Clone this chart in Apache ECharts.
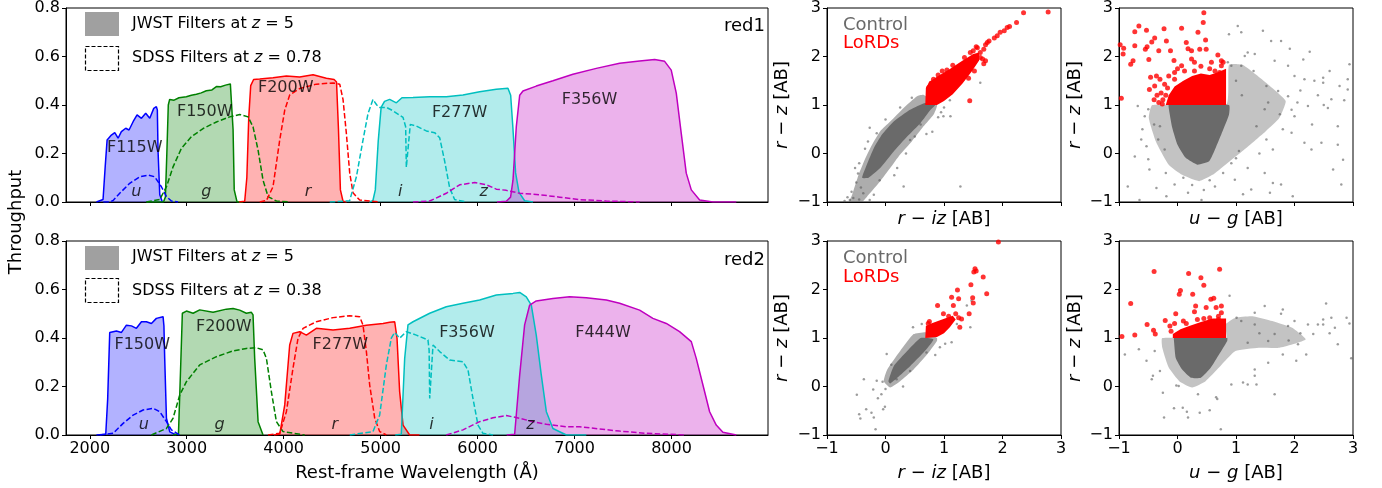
<!DOCTYPE html>
<html>
<head>
<meta charset="utf-8">
<script src="https://cdn.jsdelivr.net/npm/echarts@6/dist/echarts.min.js"></script>
<style>html,body{margin:0;background:#fff}#main{width:1382px;height:488px}</style>
</head>
<body>
<div id="main"></div>
<script>
// filter curves, [wavelength (A), throughput]
var waveTicks = [2000, 3000, 4000, 5000, 6000, 7000, 8000];
var colorTicks = [-1, 0, 1, 2, 3];

// red1: JWST at z=5, SDSS at z=0.78
var f115wTop = [[2069,0],[2137,0.01],[2160,0.15],[2179,0.256],[2223,0.276],[2258,0.286],[2292,0.263],[2326,0.29],[2371,0.304],[2405,0.297],[2447,0.331],[2488,0.359],[2533,0.345],[2577,0.366],[2619,0.345],[2660,0.386],[2687,0.393],[2697,0.38],[2704,0.214],[2722,0.03],[2749,0]];
var f150wTop = [[2584,0],[2760,0],[2780,0.02],[2795,0.2],[2810,0.4],[2824,0.423],[2870,0.42],[2920,0.43],[2996,0.434],[3048,0.44],[3100,0.444],[3150,0.45],[3202,0.459],[3260,0.462],[3306,0.476],[3350,0.475],[3400,0.482],[3450,0.487],[3465,0.48],[3478,0.3],[3490,0.05],[3519,0],[3580,0]];
var f200wTop = [[3540,0],[3598,0.003],[3620,0.1],[3640,0.35],[3660,0.48],[3690,0.505],[3753,0.507],[3890,0.512],[4028,0.52],[4165,0.515],[4303,0.525],[4440,0.51],[4520,0.505],[4545,0.495],[4565,0.3],[4585,0.05],[4612,0.003],[4650,0]];
var f277wTop = [[4880,0],[4920,0.005],[4945,0.05],[4975,0.25],[5005,0.39],[5040,0.415],[5093,0.423],[5162,0.409],[5220,0.43],[5334,0.431],[5506,0.434],[5677,0.434],[5849,0.441],[6021,0.455],[6193,0.465],[6313,0.469],[6341,0.44],[6365,0.3],[6392,0.12],[6427,0.04],[6485,0.005],[6571,0]];
var f356wTop = [[6200,0],[6296,0.003],[6340,0.02],[6365,0.09],[6399,0.31],[6434,0.44],[6468,0.458],[6605,0.478],[6777,0.5],[6983,0.527],[7224,0.551],[7465,0.572],[7671,0.581],[7826,0.588],[7929,0.58],[7997,0.544],[8049,0.449],[8100,0.284],[8152,0.119],[8204,0.05],[8290,0.008],[8427,0],[8668,0]];
var uTop = [[2140,0],[2206,0],[2241,0.006],[2309,0.036],[2412,0.077],[2516,0.104],[2601,0.111],[2670,0.104],[2739,0.063],[2791,0.022],[2842,0.004],[2911,0]];
var gTop = [[2584,0],[2722,0.01],[2791,0.063],[2859,0.145],[2945,0.221],[3048,0.269],[3169,0.303],[3306,0.33],[3443,0.351],[3547,0.361],[3633,0.351],[3684,0.31],[3736,0.214],[3787,0.09],[3839,0.022],[3925,0.004],[4062,0]];
var rTop = [[3753,0],[3822,0.006],[3890,0.063],[3959,0.255],[4011,0.379],[4062,0.441],[4165,0.468],[4337,0.486],[4509,0.491],[4578,0.486],[4612,0.423],[4646,0.285],[4681,0.12],[4715,0.038],[4784,0.008],[4990,0]];
var iTop = [[4475,0],[4680,0.005],[4750,0.104],[4818,0.255],[4870,0.365],[4921,0.423],[4960,0.4],[4990,0.39],[5060,0.39],[5128,0.376],[5231,0.349],[5258,0.31],[5265,0.143],[5306,0.32],[5368,0.313],[5471,0.293],[5557,0.286],[5609,0.265],[5660,0.169],[5712,0.058],[5763,0.01],[5884,0]];
var zTop = [[5334,0],[5506,0.004],[5677,0.036],[5815,0.071],[5970,0.08],[6090,0.071],[6193,0.053],[6296,0.048],[6434,0.036],[6640,0.03],[6846,0.02],[7052,0.01],[7327,0.004],[7671,0]];

// red2: JWST at z=5, SDSS at z=0.38
var f150wBot = [[2069,0],[2165,0.003],[2185,0.15],[2206,0.423],[2275,0.429],[2327,0.423],[2378,0.453],[2430,0.45],[2481,0.44],[2533,0.467],[2584,0.467],[2636,0.46],[2687,0.481],[2756,0.488],[2765,0.45],[2773,0.316],[2791,0.069],[2825,0.013],[2894,0]];
var f200wBot = [[2860,0],[2915,0.005],[2935,0.25],[2955,0.502],[2997,0.511],[3066,0.502],[3134,0.516],[3272,0.506],[3409,0.519],[3478,0.522],[3546,0.515],[3615,0.502],[3667,0.506],[3684,0.495],[3701,0.316],[3736,0.055],[3787,0]];
var f277wBot = [[3900,0],[3959,0.003],[4011,0.124],[4062,0.371],[4096,0.419],[4165,0.426],[4234,0.412],[4337,0.44],[4509,0.433],[4681,0.44],[4853,0.453],[5025,0.46],[5093,0.465],[5145,0.467],[5169,0.399],[5196,0.179],[5231,0.041],[5299,0],[5400,0]];
var f356wBot = [[5150,0],[5213,0.003],[5248,0.316],[5282,0.454],[5334,0.467],[5506,0.502],[5677,0.529],[5849,0.543],[6021,0.557],[6193,0.577],[6365,0.584],[6434,0.588],[6502,0.57],[6554,0.536],[6605,0.412],[6657,0.247],[6709,0.096],[6777,0.027],[6915,0],[7121,0]];
var f444wBot = [[6300,0],[6382,0.003],[6434,0.247],[6485,0.454],[6537,0.536],[6605,0.553],[6777,0.563],[6949,0.57],[7121,0.566],[7327,0.557],[7465,0.543],[7671,0.515],[7808,0.481],[7946,0.46],[8083,0.426],[8204,0.385],[8255,0.316],[8324,0.206],[8393,0.096],[8461,0.041],[8530,0.011],[8668,0]];
var uBot = [[2103,0],[2241,0.007],[2344,0.048],[2447,0.082],[2550,0.103],[2653,0.11],[2722,0.096],[2791,0.055],[2842,0.021],[2928,0]];
var gBot = [[2636,0],[2791,0.027],[2859,0.069],[2928,0.165],[2997,0.22],[3134,0.289],[3306,0.323],[3478,0.347],[3615,0.357],[3718,0.36],[3787,0.351],[3822,0.316],[3873,0.179],[3925,0.055],[3993,0.014],[4217,0]];
var rBot = [[3839,0],[3959,0.007],[4028,0.096],[4096,0.275],[4148,0.399],[4200,0.44],[4337,0.467],[4509,0.484],[4681,0.492],[4784,0.488],[4818,0.453],[4853,0.344],[4887,0.206],[4939,0.069],[4990,0.014],[5059,0]];
var iBot = [[4681,0],[4921,0.014],[4990,0.082],[5059,0.289],[5110,0.399],[5145,0.423],[5196,0.399],[5265,0.426],[5368,0.412],[5488,0.392],[5500,0.35],[5506,0.151],[5540,0.371],[5609,0.344],[5712,0.309],[5849,0.302],[5901,0.268],[5952,0.151],[6004,0.041],[6055,0.007],[6159,0]];
var zBot = [[5677,0],[5849,0.021],[6021,0.055],[6159,0.071],[6296,0.08],[6434,0.069],[6571,0.055],[6709,0.044],[6915,0.034],[7052,0.034],[7258,0.025],[7465,0.016],[7740,0.007],[8152,0]];

// band labels [wavelength, throughput, text]
var jwstLabelsTop = [[2464,0.223,'F115W'],[3186,0.371,'F150W'],[4021,0.47,'F200W'],[5815,0.367,'F277W'],[7155,0.42,'F356W']];
var sdssLabelsTop = [[2481,0.04,'u'],[3203,0.04,'g'],[4251,0.04,'r'],[5203,0.04,'i'],[6062,0.04,'z']];
var jwstLabelsBot = [[2541,0.371,'F150W'],[3382,0.447,'F200W'],[4585,0.371,'F277W'],[5890,0.423,'F356W'],[7293,0.423,'F444W']];
var sdssLabelsBot = [[2557,0.04,'u'],[3340,0.04,'g'],[4526,0.04,'r'],[5523,0.04,'i'],[6544,0.04,'z']];

// colour-colour panels: outlines of the dense clouds and single points
var ctlCoreTM = [[0.68,1.04],[0.42,0.9],[0.14,0.66],[-0.06,0.39],[-0.2,0.11],[-0.32,-0.23],[-0.4,-0.5],[-0.29,-0.5],[-0.09,-0.3],[0.14,0.04],[0.37,0.35],[0.6,0.63],[0.77,0.9],[0.85,1.0]];
var ctlHaloTM = [[0.65,1.21],[0.54,1.18],[0.31,0.94],[0.08,0.66],[-0.09,0.46],[-0.23,0.18],[-0.34,-0.09],[-0.46,-0.44],[-0.57,-0.85],[-0.62,-1.0],[-0.4,-1.0],[-0.29,-0.85],[-0.09,-0.57],[0.08,-0.3],[0.25,-0.02],[0.45,0.25],[0.65,0.56],[0.82,0.8],[0.88,1.0]];
var lrdCoreTM = [[0.68,1.0],[0.69,1.35],[0.75,1.48],[0.9,1.6],[1.1,1.74],[1.3,1.9],[1.5,2.05],[1.6,2.08],[1.6,1.92],[1.48,1.7],[1.32,1.45],[1.15,1.22],[1.0,1.08],[0.88,1.0]];
var ctlPtsTM = [[-0.61,-0.96],[-0.55,-0.92],[-0.58,-0.79],[-0.38,-0.82],[-0.27,-0.96],[-0.47,-0.41],[-0.5,-0.6],[-0.65,-0.9],[-0.42,-0.7],[-0.2,-0.85],[0.31,-0.68],[1.28,-0.68],[1.11,0.77],[0.99,0.77],[1.19,1.49],[1.62,1.46],[0.42,0.28],[-0.27,0.53],[-0.15,0.42],[0.5,0.35],[0.6,0.6],[0.9,0.75],[-0.35,0.1],[-0.45,-0.2],[0.2,-0.3],[0.35,0.0],[1.0,0.95],[1.1,1.1],[-0.1,-0.55],[0.8,0.45],[-0.3,0.25],[0.0,0.7],[0.25,0.95],[0.45,1.15],[-0.52,-0.3],[0.15,-0.45],[0.7,0.4],[0.95,0.85],[-0.7,-0.98],[-0.45,-0.95]];
var lrdPtsTM = [[2.78,2.92],[2.36,2.9],[2.24,2.7],[2.12,2.62],[2.08,2.6],[2.03,2.53],[1.96,2.5],[1.91,2.43],[1.86,2.38],[1.77,2.32],[1.74,2.29],[1.71,2.24],[1.57,2.18],[1.62,2.08],[1.71,1.91],[1.66,1.95],[1.44,1.09],[1.22,1.7],[1.3,1.78],[0.97,1.7],[0.82,1.53],[0.74,1.36],[1.05,1.72],[0.9,1.62],[1.5,2.12],[1.35,1.98],[1.15,1.82],[0.78,1.45],[1.62,1.98],[1.68,1.85],[1.52,1.7],[1.42,1.55],[1.68,2.15],[1.55,2.2],[1.45,2.08]];

var ctlCoreTR = [[-0.15,1.0],[-0.15,0.94],[-0.09,0.53],[0.0,0.18],[0.14,-0.09],[0.34,-0.23],[0.54,-0.16],[0.65,0.11],[0.77,0.46],[0.88,0.8],[0.88,1.0]];
var ctlHaloTR = [[-0.43,1.0],[-0.49,0.73],[-0.37,0.25],[-0.15,-0.23],[0.08,-0.44],[0.37,-0.57],[0.6,-0.44],[0.82,-0.23],[1.17,0.11],[1.51,0.46],[1.74,0.73],[1.85,1.08],[1.62,1.35],[1.34,1.63],[1.11,1.83],[0.88,1.83],[0.83,1.0]];
var lrdCoreTR = [[-0.2,1.0],[0.83,1.0],[0.83,1.75],[0.7,1.68],[0.55,1.62],[0.4,1.65],[0.25,1.6],[0.1,1.5],[-0.05,1.38],[-0.15,1.2]];
var ctlPtsTR = [[1.03,2.63],[1.09,2.5],[1.46,2.53],[0.88,2.46],[1.77,2.32],[1.6,2.32],[2.26,2.1],[1.92,2.16],[2.49,1.56],[2.34,1.5],[2.17,1.53],[2.77,1.39],[2.91,1.32],[2.94,1.84],[2.91,1.53],[2.63,1.12],[2.57,0.94],[2.74,0.56],[2.46,0.22],[2.74,0.18],[2.83,-0.13],[2.8,-0.64],[2.66,-0.33],[2.29,0.08],[2.17,0.22],[1.95,0.43],[2.0,0.77],[2.23,0.98],[1.89,1.18],[1.72,1.29],[1.52,1.39],[1.55,1.05],[1.75,0.81],[1.49,0.91],[1.35,0.56],[1.52,0.29],[1.63,0.08],[1.49,-0.4],[1.63,-0.61],[1.77,-0.64],[1.97,-0.88],[1.58,-0.81],[1.26,-0.74],[1.12,-0.84],[0.98,-0.54],[0.92,-0.2],[0.78,-0.4],[0.64,-0.68],[0.41,-0.96],[0.18,-0.81],[-0.05,-0.64],[-0.19,-0.88],[-0.36,-0.71],[-0.48,-0.33],[-0.5,-0.12],[-0.73,-0.06],[-0.85,-0.68],[-0.65,-0.96],[-0.53,0.15],[-0.62,0.29],[-0.56,0.77],[-0.5,0.91],[-0.68,0.98],[-0.33,0.29],[-0.3,0.56],[-0.22,0.08],[1.09,1.81],[1.15,2.01],[1.2,2.08],[1.32,2.05],[0.92,1.81],[0.86,1.88],[1.66,1.91],[1.89,1.81],[2.15,1.94],[2.49,1.46],[2.4,1.2],[2.1,1.3],[1.3,1.7],[1.0,1.5],[1.1,1.2],[2.6,1.7],[2.85,1.1],[2.3,0.6],[2.0,1.6],[1.2,-0.3],[1.4,0.0],[0.55,-0.55],[-0.2,-0.4],[0.1,-0.5],[-0.4,0.6],[1.8,0.5],[2.05,1.05],[1.95,0.9],[0.45,-0.75],[0.25,-0.65],[1.0,-0.1],[1.05,0.05],[-0.6,0.5],[2.5,1.0]];
var lrdPtsTR = [[-0.98,2.24],[-0.92,2.17],[-0.93,2.05],[-0.96,1.14],[-0.8,1.84],[-0.76,1.91],[-0.73,2.22],[-0.73,2.51],[-0.66,2.63],[-0.53,2.54],[-0.55,2.15],[-0.52,2.2],[-0.44,2.3],[-0.39,2.38],[-0.49,1.94],[-0.32,2.12],[-0.23,2.57],[-0.19,2.32],[-0.12,2.12],[-0.06,1.92],[0.07,2.58],[0.15,2.29],[0.18,2.16],[0.24,2.12],[0.35,2.5],[0.44,2.7],[0.45,2.9],[0.48,2.34],[0.38,2.15],[0.49,2.15],[0.69,2.03],[0.75,1.91],[0.78,1.88],[0.58,1.88],[0.24,1.95],[0.29,1.88],[-0.46,1.57],[-0.39,1.39],[-0.3,1.53],[-0.4,1.11],[-0.25,1.11],[-0.28,1.25],[-0.22,1.43],[-0.48,1.32],[-0.36,1.6],[-0.05,1.67],[0.07,1.81],[0.12,1.7],[-0.05,1.53],[0.29,1.7],[0.64,1.7],[0.72,1.67],[0.75,1.81],[-0.15,1.6],[0.0,1.75],[0.4,1.8],[0.55,1.75],[-0.2,1.2],[-0.32,1.05],[-0.17,1.35],[-0.26,1.02],[-0.35,1.2]];

var ctlCoreBM = [[0.05,0.11],[0.14,0.42],[0.37,0.73],[0.6,1.0],[0.82,0.97],[0.65,0.7],[0.42,0.42],[0.2,0.18],[0.08,0.06]];
var ctlHaloBM = [[-0.03,0.11],[0.03,0.35],[0.25,0.73],[0.48,1.08],[0.7,1.12],[0.88,1.0],[0.88,0.94],[0.71,0.66],[0.48,0.35],[0.25,0.11],[0.08,-0.02]];
var lrdCoreBM = [[0.68,1.0],[0.69,1.25],[0.78,1.3],[0.92,1.36],[1.05,1.42],[1.15,1.46],[1.2,1.38],[1.1,1.22],[1.0,1.1],[0.88,1.02]];
var ctlPtsBM = [[-0.49,-0.17],[-0.45,-0.57],[-0.43,-0.66],[-0.33,-0.47],[-0.24,-0.54],[-0.2,-0.64],[-0.17,-0.88],[-0.13,-0.24],[-0.04,-0.47],[-0.01,-0.42],[-0.37,0.15],[-0.15,0.12],[-0.21,-0.06],[-0.07,-0.16],[0.02,0.67],[0.47,1.22],[0.62,1.29],[1.02,0.88],[1.13,0.91],[1.45,1.22],[1.39,1.67],[1.47,1.77],[1.22,1.29],[0.7,0.7],[0.93,0.81],[0.42,0.32],[0.19,0.15],[0.0,-0.05],[-0.05,0.1],[0.3,0.0],[0.85,0.65],[0.1,0.45]];
var lrdPtsBM = [[1.93,2.98],[1.53,2.43],[1.51,2.36],[1.55,2.38],[1.67,2.26],[1.73,1.91],[1.46,2.1],[1.49,1.83],[1.5,1.72],[1.43,1.5],[1.27,1.22],[1.3,1.39],[1.23,1.99],[1.13,1.84],[1.25,1.81],[0.99,1.5],[0.89,1.67],[1.16,1.67],[0.75,1.34],[0.73,1.3],[1.2,1.5],[1.25,1.42],[1.08,1.45]];

var ctlCoreBR = [[-0.06,1.0],[-0.06,0.94],[-0.03,0.59],[0.08,0.35],[0.23,0.18],[0.4,0.18],[0.57,0.39],[0.71,0.66],[0.85,0.94],[0.85,1.0]];
var ctlHaloBR = [[-0.26,1.0],[-0.26,0.8],[-0.15,0.39],[0.03,0.11],[0.25,-0.02],[0.48,0.11],[0.71,0.39],[0.99,0.73],[1.39,0.8],[1.74,0.8],[2.19,0.97],[1.96,1.21],[1.62,1.35],[1.28,1.45],[0.99,1.42],[0.82,1.28],[0.83,1.0]];
var lrdCoreBR = [[-0.08,1.0],[0.83,1.0],[0.83,1.4],[0.6,1.4],[0.4,1.33],[0.2,1.25],[0.05,1.18],[-0.08,1.08]];
var ctlPtsBR = [[-0.9,0.66],[-0.66,0.77],[-0.53,0.53],[-0.44,0.15],[-0.42,0.22],[-0.39,0.73],[-0.3,0.32],[-0.25,-0.13],[-0.23,-0.64],[-0.06,-0.45],[0.09,-0.44],[-0.02,0.02],[0.02,0.01],[0.18,-0.64],[0.16,-0.52],[0.35,-0.16],[0.38,-0.54],[0.55,-0.49],[0.66,-0.22],[0.68,-0.26],[0.74,-0.88],[0.92,0.04],[1.12,0.08],[1.2,0.04],[1.32,0.35],[1.35,0.04],[1.32,0.22],[1.55,0.49],[1.66,-0.16],[0.89,1.87],[1.49,1.66],[1.32,1.52],[1.8,1.59],[1.77,1.5],[2.0,1.35],[2.23,1.28],[2.06,0.87],[1.8,0.66],[1.89,1.25],[2.49,1.38],[2.54,1.71],[2.49,1.28],[2.63,1.42],[2.69,1.21],[2.89,1.42],[2.94,1.3],[2.74,0.87],[2.97,0.58],[2.2,0.66],[2.03,0.53],[2.32,1.08],[2.4,1.28],[1.66,1.08],[1.55,0.94],[1.32,1.28],[1.09,1.35],[1.01,1.42],[2.1,1.1],[1.9,0.95],[2.6,1.1],[1.2,0.9],[1.4,1.1]];
var lrdPtsBR = [[-0.95,1.03],[-0.8,1.71],[-0.73,1.06],[-0.52,1.28],[-0.41,1.16],[-0.38,1.08],[-0.4,2.37],[-0.21,1.36],[-0.13,1.25],[-0.11,1.14],[-0.03,1.5],[0.03,1.9],[0.05,1.98],[0.19,2.33],[0.26,1.9],[0.31,1.66],[0.29,1.54],[0.34,1.38],[0.4,2.24],[0.45,2.09],[0.57,1.8],[0.62,1.82],[0.66,1.63],[0.72,2.42],[0.75,1.66],[0.7,1.45],[0.75,1.52],[0.49,1.63],[0.55,1.42],[0.1,1.35],[0.45,1.4],[0.7,1.38],[0.15,1.3],[-0.05,1.3]];

var FONT = 'DejaVu Sans';
var GRAY = '#6a6a6a';

function minus(v) { return v < 0 ? '\u2212' + (-v) : '' + v; }

function band(data, color, g) {
  return {type: 'line', xAxisIndex: g, yAxisIndex: g, data: data, symbol: 'none', silent: true, z: 2,
    lineStyle: {color: color, width: 1.5}, areaStyle: {color: color, opacity: 0.3}};
}
function sdss(data, color, g) {
  return {type: 'line', xAxisIndex: g, yAxisIndex: g, data: data, symbol: 'none', silent: true, z: 3,
    lineStyle: {color: color, width: 1.5, type: [5.5, 2.4]}};
}
function names(list, g, italic) {
  return {type: 'scatter', xAxisIndex: g, yAxisIndex: g, symbolSize: 0, silent: true, z: 5,
    data: list.map(function (d) { return {name: d[2], value: [d[0], d[1]]}; }),
    label: {show: true, position: 'inside', formatter: '{b}', color: '#000', fontSize: 16,
      fontFamily: FONT, fontStyle: italic ? 'italic' : 'normal'}};
}
function blob(poly, color, g, z, smooth) {
  return {type: 'custom', xAxisIndex: g, yAxisIndex: g, data: [poly[0]], silent: true, z: z, clip: true,
    renderItem: function (params, api) {
      var pts = poly.map(function (p) { return api.coord(p); });
      return {type: 'polygon', shape: {points: pts, smooth: smooth}, style: {fill: color}};
    }};
}
function dots(data, color, size, g, z) {
  return {type: 'scatter', xAxisIndex: g, yAxisIndex: g, data: data, symbolSize: size, silent: true, z: z,
    itemStyle: {color: color}};
}

var axisLineStyle = {show: true, onZero: false, lineStyle: {color: '#000', width: 1}};
function waveAxis(g, labels) {
  return {type: 'value', gridIndex: g, min: 1755, max: 8995, axisLine: axisLineStyle, splitLine: {show: false},
    axisTick: {show: true, length: 4, customValues: waveTicks, lineStyle: {color: '#000'}},
    axisLabel: {show: labels, customValues: waveTicks, color: '#000', fontSize: 16, fontFamily: FONT, margin: 6,
      formatter: function (v) { return String(v); }}};
}
function tputAxis(g) {
  return {type: 'value', gridIndex: g, min: 0, max: 0.8, interval: 0.2, axisLine: axisLineStyle, splitLine: {show: false},
    axisTick: {show: true, length: 4, lineStyle: {color: '#000'}},
    axisLabel: {color: '#000', fontSize: 16, fontFamily: FONT, margin: 6, formatter: function (v) { return v.toFixed(1); }}};
}
function colorAxis(g, labels) {
  return {type: 'value', gridIndex: g, min: -1, max: 3, interval: 1, axisLine: axisLineStyle, splitLine: {show: false},
    axisTick: {show: true, length: 4, lineStyle: {color: '#000'}},
    axisLabel: {show: labels, color: '#000', fontSize: 16, fontFamily: FONT, margin: 6, formatter: minus}};
}

function mtext(x, y, text, size, opts) {
  opts = opts || {};
  return {type: 'text', x: x, y: y, rotation: opts.rot || 0, silent: true, z: 100,
    style: {text: text, fill: opts.color || '#000', fontSize: size, fontFamily: FONT,
      align: opts.align || 'center', verticalAlign: 'middle',
      rich: {i: {fontStyle: 'italic', fontSize: size, fontFamily: FONT, fill: opts.color || '#000'}}}};
}

var grids = [
  {left: 66, top: 8, width: 702, height: 194},
  {left: 66, top: 241, width: 702, height: 194},
  {left: 827, top: 8, width: 234, height: 194},
  {left: 1119, top: 8, width: 234, height: 194},
  {left: 827, top: 241, width: 234, height: 194},
  {left: 1119, top: 241, width: 234, height: 194}
].map(function (g) { return Object.assign({show: true, borderColor: '#000', borderWidth: 1, backgroundColor: 'transparent'}, g); });

var series = [
  band(f115wTop, '#0000ff', 0), band(f150wTop, '#008000', 0), band(f200wTop, '#ff0000', 0),
  band(f277wTop, '#00bfbf', 0), band(f356wTop, '#bf00bf', 0),
  sdss(uTop, '#0000ff', 0), sdss(gTop, '#008000', 0), sdss(rTop, '#ff0000', 0), sdss(iTop, '#00bfbf', 0), sdss(zTop, '#bf00bf', 0),
  names(jwstLabelsTop, 0, false), names(sdssLabelsTop, 0, true),

  band(f150wBot, '#0000ff', 1), band(f200wBot, '#008000', 1), band(f277wBot, '#ff0000', 1),
  band(f356wBot, '#00bfbf', 1), band(f444wBot, '#bf00bf', 1),
  sdss(uBot, '#0000ff', 1), sdss(gBot, '#008000', 1), sdss(rBot, '#ff0000', 1), sdss(iBot, '#00bfbf', 1), sdss(zBot, '#bf00bf', 1),
  names(jwstLabelsBot, 1, false), names(sdssLabelsBot, 1, true)
];

var panels = [
  [2, ctlHaloTM, ctlCoreTM, ctlPtsTM, lrdCoreTM, lrdPtsTM, 0.55],
  [3, ctlHaloTR, ctlCoreTR, ctlPtsTR, lrdCoreTR, lrdPtsTR, 0.4],
  [4, ctlHaloBM, ctlCoreBM, ctlPtsBM, lrdCoreBM, lrdPtsBM, 0.55],
  [5, ctlHaloBR, ctlCoreBR, ctlPtsBR, lrdCoreBR, lrdPtsBR, 0.4]
];
panels.forEach(function (p) {
  series.push(blob(p[1], 'rgba(106,106,106,' + p[6] + ')', p[0], 2, 0.15));
  series.push(blob(p[2], GRAY, p[0], 3, 0.15));
  series.push(dots(p[3], 'rgba(90,90,90,0.75)', 2.5, p[0], 4));
  series.push(blob(p[4], '#ff0000', p[0], 5, 0));
  series.push(dots(p[5], '#ff0000', 5, p[0], 6));
});

var graphic = [
  mtext(16, 222, 'Throughput', 18, {rot: Math.PI / 2}),
  mtext(417, 473, 'Rest-frame Wavelength (\u00c5)', 18),
  mtext(765, 26, 'red1', 18, {align: 'right'}),
  mtext(765, 260, 'red2', 18, {align: 'right'}),
  mtext(944, 219, '{i|r} \u2212 {i|iz} [AB]', 18),
  mtext(944, 473, '{i|r} \u2212 {i|iz} [AB]', 18),
  mtext(1236, 219, '{i|u} \u2212 {i|g} [AB]', 18),
  mtext(1236, 473, '{i|u} \u2212 {i|g} [AB]', 18),
  mtext(782, 105, '{i|r} \u2212 {i|z} [AB]', 18, {rot: Math.PI / 2}),
  mtext(782, 338, '{i|r} \u2212 {i|z} [AB]', 18, {rot: Math.PI / 2}),
  mtext(1075, 105, '{i|r} \u2212 {i|z} [AB]', 18, {rot: Math.PI / 2}),
  mtext(1075, 338, '{i|r} \u2212 {i|z} [AB]', 18, {rot: Math.PI / 2}),
  mtext(843, 25, 'Control', 18, {align: 'left', color: 'dimgray'}),
  mtext(843, 43, 'LoRDs', 18, {align: 'left', color: '#ff0000'}),
  mtext(843, 258, 'Control', 18, {align: 'left', color: 'dimgray'}),
  mtext(843, 277, 'LoRDs', 18, {align: 'left', color: '#ff0000'})
];
// filter legends
[[12, 46, 'SDSS Filters at {i|z} = 0.78', 24, 58], [246, 278, 'SDSS Filters at {i|z} = 0.38', 257, 291]].forEach(function (l) {
  graphic.push({type: 'rect', shape: {x: 85, y: l[0], width: 34, height: 24}, style: {fill: '#a0a0a0'}, silent: true, z: 100});
  graphic.push({type: 'rect', shape: {x: 85.5, y: l[1] + 0.5, width: 33, height: 24}, silent: true, z: 100,
    style: {fill: 'none', stroke: '#000', lineWidth: 1.2, lineDash: [4, 2]}});
  graphic.push(mtext(132, l[3], 'JWST Filters at {i|z} = 5', 16, {align: 'left'}));
  graphic.push(mtext(132, l[4], l[2], 16, {align: 'left'}));
});

var chart = echarts.init(document.getElementById('main'), null, {renderer: 'canvas'});
chart.setOption({
  animation: false,
  backgroundColor: '#fff',
  textStyle: {fontFamily: FONT},
  grid: grids,
  xAxis: [waveAxis(0, false), waveAxis(1, true), colorAxis(2, false), colorAxis(3, false), colorAxis(4, true), colorAxis(5, true)],
  yAxis: [tputAxis(0), tputAxis(1), colorAxis(2, true), colorAxis(3, true), colorAxis(4, true), colorAxis(5, true)],
  series: series,
  graphic: graphic
});
</script>
</body>
</html>
